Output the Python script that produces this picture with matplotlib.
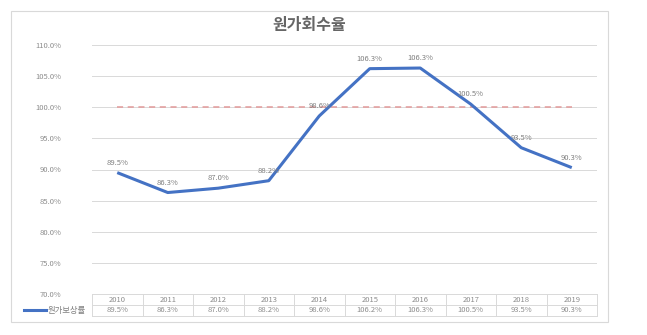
import matplotlib
matplotlib.use("Agg")
import matplotlib.pyplot as plt
from matplotlib.patches import Rectangle
from matplotlib.lines import Line2D

plt.rcParams['font.family'] = ['Noto Sans CJK KR', 'DejaVu Sans']

# data
years = ['2010', '2011', '2012', '2013', '2014', '2015', '2016', '2017', '2018', '2019']
rate = [89.5, 86.3, 87.0, 88.2, 98.6, 106.2, 106.3, 100.5, 93.5, 90.3]
point_labels = ['89.5%', '86.3%', '87.0%', '88.2%', '98.6%', '106.3%', '106.3%', '100.5%', '93.5%', '90.3%']
table_labels = ['89.5%', '86.3%', '87.0%', '88.2%', '98.6%', '106.2%', '106.3%', '100.5%', '93.5%', '90.3%']
target = [100.0] * len(years)
yticks = [70, 75, 80, 85, 90, 95, 100, 105, 110]
series_name = '원가보상률'
title = '원가회수율'

W, H = 647, 335
fig = plt.figure(figsize=(W / 100, H / 100), dpi=100)
fig.patch.set_facecolor('white')

# outer chart frame
fig.patches.append(Rectangle((11 / W, 1 - 322 / H), 597 / W, 311 / H,
                             transform=fig.transFigure, fill=False,
                             edgecolor='#D9D9D9', linewidth=0.8))

fig.text(309 / W, 1 - 25 / H, title, ha='center', va='center',
         fontsize=11.5, fontweight='bold', color='#666666')

x = list(range(len(years)))
ax = fig.add_axes([92 / W, 1 - 294 / H, 505 / W, 249 / H])
ax.set_xlim(-0.5, len(years) - 0.5)
ax.set_ylim(70, 110)
ax.set_yticks(yticks)
ax.set_yticklabels([f'{v:.1f}%' for v in yticks])
ax.tick_params(axis='y', length=0, labelsize=5.5, labelcolor='#8C8C8C', pad=22)
ax.set_xticks([])
for s in ax.spines.values():
    s.set_visible(False)
ax.grid(axis='y', color='#D9D9D9', linewidth=0.7)
ax.set_axisbelow(True)

ax.plot(x, target, color='#E29A9A', linewidth=1.1, linestyle=(0, (4, 3)))
ax.plot(x, rate, color='#4472C4', linewidth=2.2, solid_capstyle='butt')
for xi, yi, lab in zip(x, rate, point_labels):
    ax.annotate(lab, (xi, yi), xytext=(0, 7), textcoords='offset points',
                ha='center', va='center', fontsize=5.5, color='#7F7F7F')

# data table under the plot
tab = fig.add_axes([92 / W, 1 - 316 / H, 505 / W, 22 / H])
tab.set_xlim(-0.5, len(years) - 0.5)
tab.set_ylim(0, 2)
tab.axis('off')
for yy in (0, 1, 2):
    tab.plot([-0.5, len(years) - 0.5], [yy, yy], color='#D9D9D9', linewidth=0.7, clip_on=False)
for xx in range(len(years) + 1):
    tab.plot([xx - 0.5, xx - 0.5], [0, 2], color='#D9D9D9', linewidth=0.7, clip_on=False)
for xi, yr, lab in zip(x, years, table_labels):
    tab.text(xi, 1.5, yr, ha='center', va='center', fontsize=5.5, color='#8C8C8C')
    tab.text(xi, 0.5, lab, ha='center', va='center', fontsize=5.5, color='#8C8C8C')

fig.lines.append(Line2D([24 / W, 46 / W], [1 - 310 / H, 1 - 310 / H],
                        transform=fig.transFigure, color='#4472C4', linewidth=2.2))
fig.text(48 / W, 1 - 310 / H, series_name, ha='left', va='center',
         fontsize=6, color='#7F7F7F')

fig.savefig('out.png', dpi=100)
